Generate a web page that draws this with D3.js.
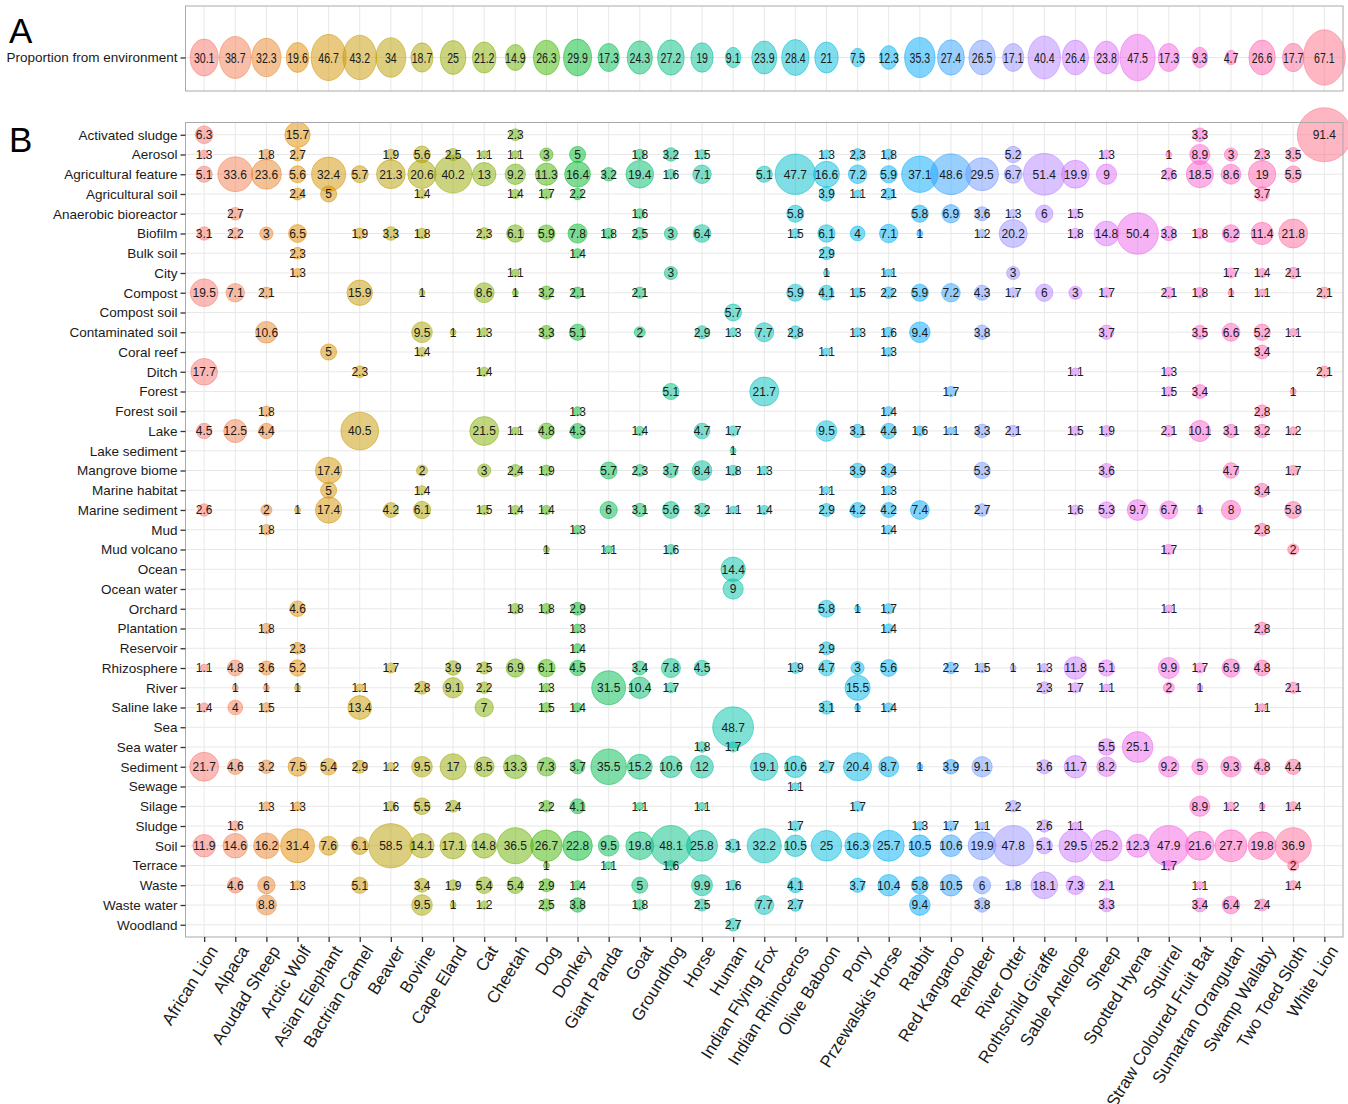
<!DOCTYPE html>
<html>
<head>
<meta charset="utf-8">
<script src="https://cdn.jsdelivr.net/npm/d3@7"></script>
<style>
  body { margin: 0; background: #fff; }
  text { font-family: "Liberation Sans", Arial, Helvetica, sans-serif; }
</style>
</head>
<body>
<svg id="chart" width="1348" height="1104"></svg>
<script>
// ---- Data -------------------------------------------------------------
const animals = [
  "African Lion", "Alpaca", "Aoudad Sheep", "Arctic Wolf", "Asian Elephant",
  "Bactrian Camel", "Beaver", "Bovine", "Cape Eland", "Cat", "Cheetah", "Dog",
  "Donkey", "Giant Panda", "Goat", "Groundhog", "Horse", "Human",
  "Indian Flying Fox", "Indian Rhinoceros", "Olive Baboon", "Pony",
  "Przewalskis Horse", "Rabbit", "Red Kangaroo", "Reindeer", "River Otter",
  "Rothschild Giraffe", "Sable Antelope", "Sheep", "Spotted Hyena", "Squirrel",
  "Straw Coloured Fruit Bat", "Sumatran Orangutan", "Swamp Wallaby",
  "Two Toed Sloth", "White Lion"
];

// Panel A: proportion of sequences assigned to an environment, per animal
const proportionLabel = "Proportion from environment";
const proportionFromEnvironment = [
  30.1, 38.7, 32.3, 19.6, 46.7, 43.2, 34, 18.7, 25, 21.2, 14.9, 26.3, 29.9,
  17.3, 24.3, 27.2, 19, 9.1, 23.9, 28.4, 21, 7.5, 12.3, 35.3, 27.4, 26.5, 17.1,
  40.4, 26.4, 23.8, 47.5, 17.3, 9.3, 4.7, 26.6, 17.7, 67.1
];

// Panel B: environment rows (top to bottom)
const environments = [
  "Activated sludge", "Aerosol", "Agricultural feature", "Agricultural soil",
  "Anaerobic bioreactor", "Biofilm", "Bulk soil", "City", "Compost",
  "Compost soil", "Contaminated soil", "Coral reef", "Ditch", "Forest",
  "Forest soil", "Lake", "Lake sediment", "Mangrove biome", "Marine habitat",
  "Marine sediment", "Mud", "Mud volcano", "Ocean", "Ocean water", "Orchard",
  "Plantation", "Reservoir", "Rhizosphere", "River", "Saline lake", "Sea",
  "Sea water", "Sediment", "Sewage", "Silage", "Sludge", "Soil", "Terrace",
  "Waste", "Waste water", "Woodland"
];

// Percentages per environment: [animal, value]
const activatedSludge = [["African Lion",6.3],["Arctic Wolf",15.7],["Cheetah",2.3],["Straw Coloured Fruit Bat",3.3],["White Lion",91.4]];
const aerosol = [["African Lion",1.3],["Aoudad Sheep",1.8],["Arctic Wolf",2.7],["Beaver",1.9],["Bovine",5.6],["Cape Eland",2.5],["Cat",1.1],["Cheetah",1.1],["Dog",3],["Donkey",5],["Goat",1.8],["Groundhog",3.2],["Horse",1.5],["Olive Baboon",1.3],["Pony",2.3],["Przewalskis Horse",1.8],["River Otter",5.2],["Sheep",1.3],["Squirrel",1],["Straw Coloured Fruit Bat",8.9],["Sumatran Orangutan",3],["Swamp Wallaby",2.3],["Two Toed Sloth",3.5]];
const agriculturalFeature = [["African Lion",5.1],["Alpaca",33.6],["Aoudad Sheep",23.6],["Arctic Wolf",5.6],["Asian Elephant",32.4],["Bactrian Camel",5.7],["Beaver",21.3],["Bovine",20.6],["Cape Eland",40.2],["Cat",13],["Cheetah",9.2],["Dog",11.3],["Donkey",16.4],["Giant Panda",3.2],["Goat",19.4],["Groundhog",1.6],["Horse",7.1],["Indian Flying Fox",5.1],["Indian Rhinoceros",47.7],["Olive Baboon",16.6],["Pony",7.2],["Przewalskis Horse",5.9],["Rabbit",37.1],["Red Kangaroo",48.6],["Reindeer",29.5],["River Otter",6.7],["Rothschild Giraffe",51.4],["Sable Antelope",19.9],["Sheep",9],["Squirrel",2.6],["Straw Coloured Fruit Bat",18.5],["Sumatran Orangutan",8.6],["Swamp Wallaby",19],["Two Toed Sloth",5.5]];
const agriculturalSoil = [["Arctic Wolf",2.4],["Asian Elephant",5],["Bovine",1.4],["Cheetah",1.4],["Dog",1.7],["Donkey",2.2],["Olive Baboon",3.9],["Pony",1.1],["Przewalskis Horse",2.1],["Swamp Wallaby",3.7]];
const anaerobicBioreactor = [["Alpaca",2.7],["Goat",1.6],["Indian Rhinoceros",5.8],["Rabbit",5.8],["Red Kangaroo",6.9],["Reindeer",3.6],["River Otter",1.3],["Rothschild Giraffe",6],["Sable Antelope",1.5]];
const biofilm = [["African Lion",3.1],["Alpaca",2.2],["Aoudad Sheep",3],["Arctic Wolf",6.5],["Bactrian Camel",1.9],["Beaver",3.3],["Bovine",1.8],["Cat",2.3],["Cheetah",6.1],["Dog",5.9],["Donkey",7.8],["Giant Panda",1.8],["Goat",2.5],["Groundhog",3],["Horse",6.4],["Indian Rhinoceros",1.5],["Olive Baboon",6.1],["Pony",4],["Przewalskis Horse",7.1],["Rabbit",1],["Reindeer",1.2],["River Otter",20.2],["Sable Antelope",1.8],["Sheep",14.8],["Spotted Hyena",50.4],["Squirrel",3.8],["Straw Coloured Fruit Bat",1.8],["Sumatran Orangutan",6.2],["Swamp Wallaby",11.4],["Two Toed Sloth",21.8]];
const bulkSoil = [["Arctic Wolf",2.3],["Donkey",1.4],["Olive Baboon",2.9]];
const city = [["Arctic Wolf",1.3],["Cheetah",1.1],["Groundhog",3],["Olive Baboon",1],["Przewalskis Horse",1.1],["River Otter",3],["Sumatran Orangutan",1.7],["Swamp Wallaby",1.4],["Two Toed Sloth",2.1]];
const compost = [["African Lion",19.5],["Alpaca",7.1],["Aoudad Sheep",2.1],["Bactrian Camel",15.9],["Bovine",1],["Cat",8.6],["Cheetah",1],["Dog",3.2],["Donkey",2.1],["Goat",2.1],["Indian Rhinoceros",5.9],["Olive Baboon",4.1],["Pony",1.5],["Przewalskis Horse",2.2],["Rabbit",5.9],["Red Kangaroo",7.2],["Reindeer",4.3],["River Otter",1.7],["Rothschild Giraffe",6],["Sable Antelope",3],["Sheep",1.7],["Squirrel",2.1],["Straw Coloured Fruit Bat",1.8],["Sumatran Orangutan",1],["Swamp Wallaby",1.1],["White Lion",2.1]];
const compostSoil = [["Human",5.7]];
const contaminatedSoil = [["Aoudad Sheep",10.6],["Bovine",9.5],["Cape Eland",1],["Cat",1.3],["Dog",3.3],["Donkey",5.1],["Goat",2],["Horse",2.9],["Human",1.3],["Indian Flying Fox",7.7],["Indian Rhinoceros",2.8],["Pony",1.3],["Przewalskis Horse",1.6],["Rabbit",9.4],["Reindeer",3.8],["Sheep",3.7],["Straw Coloured Fruit Bat",3.5],["Sumatran Orangutan",6.6],["Swamp Wallaby",5.2],["Two Toed Sloth",1.1]];
const coralReef = [["Asian Elephant",5],["Bovine",1.4],["Olive Baboon",1.1],["Przewalskis Horse",1.3],["Swamp Wallaby",3.4]];
const ditch = [["African Lion",17.7],["Bactrian Camel",2.3],["Cat",1.4],["Sable Antelope",1.1],["Squirrel",1.3],["White Lion",2.1]];
const forest = [["Groundhog",5.1],["Indian Flying Fox",21.7],["Red Kangaroo",1.7],["Squirrel",1.5],["Straw Coloured Fruit Bat",3.4],["Two Toed Sloth",1]];
const forestSoil = [["Aoudad Sheep",1.8],["Donkey",1.3],["Przewalskis Horse",1.4],["Swamp Wallaby",2.8]];
const lake = [["African Lion",4.5],["Alpaca",12.5],["Aoudad Sheep",4.4],["Bactrian Camel",40.5],["Cat",21.5],["Cheetah",1.1],["Dog",4.8],["Donkey",4.3],["Goat",1.4],["Horse",4.7],["Human",1.7],["Olive Baboon",9.5],["Pony",3.1],["Przewalskis Horse",4.4],["Rabbit",1.6],["Red Kangaroo",1.1],["Reindeer",3.3],["River Otter",2.1],["Sable Antelope",1.5],["Sheep",1.9],["Squirrel",2.1],["Straw Coloured Fruit Bat",10.1],["Sumatran Orangutan",3.1],["Swamp Wallaby",3.2],["Two Toed Sloth",1.2]];
const lakeSediment = [["Human",1]];
const mangroveBiome = [["Asian Elephant",17.4],["Bovine",2],["Cat",3],["Cheetah",2.4],["Dog",1.9],["Giant Panda",5.7],["Goat",2.3],["Groundhog",3.7],["Horse",8.4],["Human",1.8],["Indian Flying Fox",1.3],["Pony",3.9],["Przewalskis Horse",3.4],["Reindeer",5.3],["Sheep",3.6],["Sumatran Orangutan",4.7],["Two Toed Sloth",1.7]];
const marineHabitat = [["Asian Elephant",5],["Bovine",1.4],["Olive Baboon",1.1],["Przewalskis Horse",1.3],["Swamp Wallaby",3.4]];
const marineSediment = [["African Lion",2.6],["Aoudad Sheep",2],["Arctic Wolf",1],["Asian Elephant",17.4],["Beaver",4.2],["Bovine",6.1],["Cat",1.5],["Cheetah",1.4],["Dog",1.4],["Giant Panda",6],["Goat",3.1],["Groundhog",5.6],["Horse",3.2],["Human",1.1],["Indian Flying Fox",1.4],["Olive Baboon",2.9],["Pony",4.2],["Przewalskis Horse",4.2],["Rabbit",7.4],["Reindeer",2.7],["Sable Antelope",1.6],["Sheep",5.3],["Spotted Hyena",9.7],["Squirrel",6.7],["Straw Coloured Fruit Bat",1],["Sumatran Orangutan",8],["Two Toed Sloth",5.8]];
const mud = [["Aoudad Sheep",1.8],["Donkey",1.3],["Przewalskis Horse",1.4],["Swamp Wallaby",2.8]];
const mudVolcano = [["Dog",1],["Giant Panda",1.1],["Groundhog",1.6],["Squirrel",1.7],["Two Toed Sloth",2]];
const ocean = [["Human",14.4]];
const oceanWater = [["Human",9]];
const orchard = [["Arctic Wolf",4.6],["Cheetah",1.8],["Dog",1.8],["Donkey",2.9],["Olive Baboon",5.8],["Pony",1],["Przewalskis Horse",1.7],["Squirrel",1.1]];
const plantation = [["Aoudad Sheep",1.8],["Donkey",1.3],["Przewalskis Horse",1.4],["Swamp Wallaby",2.8]];
const reservoir = [["Arctic Wolf",2.3],["Donkey",1.4],["Olive Baboon",2.9]];
const rhizosphere = [["African Lion",1.1],["Alpaca",4.8],["Aoudad Sheep",3.6],["Arctic Wolf",5.2],["Beaver",1.7],["Cape Eland",3.9],["Cat",2.5],["Cheetah",6.9],["Dog",6.1],["Donkey",4.5],["Goat",3.4],["Groundhog",7.8],["Horse",4.5],["Indian Rhinoceros",1.9],["Olive Baboon",4.7],["Pony",3],["Przewalskis Horse",5.6],["Red Kangaroo",2.2],["Reindeer",1.5],["River Otter",1],["Rothschild Giraffe",1.3],["Sable Antelope",11.8],["Sheep",5.1],["Squirrel",9.9],["Straw Coloured Fruit Bat",1.7],["Sumatran Orangutan",6.9],["Swamp Wallaby",4.8]];
const river = [["Alpaca",1],["Aoudad Sheep",1],["Arctic Wolf",1],["Bactrian Camel",1.1],["Bovine",2.8],["Cape Eland",9.1],["Cat",2.2],["Dog",1.3],["Giant Panda",31.5],["Goat",10.4],["Groundhog",1.7],["Pony",15.5],["Rothschild Giraffe",2.3],["Sable Antelope",1.7],["Sheep",1.1],["Squirrel",2],["Straw Coloured Fruit Bat",1],["Two Toed Sloth",2.1]];
const salineLake = [["African Lion",1.4],["Alpaca",4],["Aoudad Sheep",1.5],["Bactrian Camel",13.4],["Cat",7],["Dog",1.5],["Donkey",1.4],["Olive Baboon",3.1],["Pony",1],["Przewalskis Horse",1.4],["Swamp Wallaby",1.1]];
const sea = [["Human",48.7]];
const seaWater = [["Horse",1.8],["Human",1.7],["Sheep",5.5],["Spotted Hyena",25.1]];
const sediment = [["African Lion",21.7],["Alpaca",4.6],["Aoudad Sheep",3.2],["Arctic Wolf",7.5],["Asian Elephant",5.4],["Bactrian Camel",2.9],["Beaver",1.2],["Bovine",9.5],["Cape Eland",17],["Cat",8.5],["Cheetah",13.3],["Dog",7.3],["Donkey",3.7],["Giant Panda",35.5],["Goat",15.2],["Groundhog",10.6],["Horse",12],["Indian Flying Fox",19.1],["Indian Rhinoceros",10.6],["Olive Baboon",2.7],["Pony",20.4],["Przewalskis Horse",8.7],["Rabbit",1],["Red Kangaroo",3.9],["Reindeer",9.1],["Rothschild Giraffe",3.6],["Sable Antelope",11.7],["Sheep",8.2],["Squirrel",9.2],["Straw Coloured Fruit Bat",5],["Sumatran Orangutan",9.3],["Swamp Wallaby",4.8],["Two Toed Sloth",4.4]];
const sewage = [["Indian Rhinoceros",1.1]];
const silage = [["Aoudad Sheep",1.3],["Arctic Wolf",1.3],["Beaver",1.6],["Bovine",5.5],["Cape Eland",2.4],["Dog",2.2],["Donkey",4.1],["Goat",1.1],["Horse",1.1],["Pony",1.7],["River Otter",2.2],["Straw Coloured Fruit Bat",8.9],["Sumatran Orangutan",1.2],["Swamp Wallaby",1],["Two Toed Sloth",1.4]];
const sludge = [["Alpaca",1.6],["Indian Rhinoceros",1.7],["Rabbit",1.3],["Red Kangaroo",1.7],["Reindeer",1.1],["Rothschild Giraffe",2.6],["Sable Antelope",1.1]];
const soil = [["African Lion",11.9],["Alpaca",14.6],["Aoudad Sheep",16.2],["Arctic Wolf",31.4],["Asian Elephant",7.6],["Bactrian Camel",6.1],["Beaver",58.5],["Bovine",14.1],["Cape Eland",17.1],["Cat",14.8],["Cheetah",36.5],["Dog",26.7],["Donkey",22.8],["Giant Panda",9.5],["Goat",19.8],["Groundhog",48.1],["Horse",25.8],["Human",3.1],["Indian Flying Fox",32.2],["Indian Rhinoceros",10.5],["Olive Baboon",25],["Pony",16.3],["Przewalskis Horse",25.7],["Rabbit",10.5],["Red Kangaroo",10.6],["Reindeer",19.9],["River Otter",47.8],["Rothschild Giraffe",5.1],["Sable Antelope",29.5],["Sheep",25.2],["Spotted Hyena",12.3],["Squirrel",47.9],["Straw Coloured Fruit Bat",21.6],["Sumatran Orangutan",27.7],["Swamp Wallaby",19.8],["Two Toed Sloth",36.9]];
const terrace = [["Dog",1],["Giant Panda",1.1],["Groundhog",1.6],["Squirrel",1.7],["Two Toed Sloth",2]];
const waste = [["Alpaca",4.6],["Aoudad Sheep",6],["Arctic Wolf",1.3],["Bactrian Camel",5.1],["Bovine",3.4],["Cape Eland",1.9],["Cat",5.4],["Cheetah",5.4],["Dog",2.9],["Donkey",1.4],["Goat",5],["Horse",9.9],["Human",1.6],["Indian Rhinoceros",4.1],["Pony",3.7],["Przewalskis Horse",10.4],["Rabbit",5.8],["Red Kangaroo",10.5],["Reindeer",6],["River Otter",1.8],["Rothschild Giraffe",18.1],["Sable Antelope",7.3],["Sheep",2.1],["Straw Coloured Fruit Bat",1.1],["Two Toed Sloth",1.4]];
const wasteWater = [["Aoudad Sheep",8.8],["Bovine",9.5],["Cape Eland",1],["Cat",1.2],["Dog",2.5],["Donkey",3.8],["Goat",1.8],["Horse",2.5],["Indian Flying Fox",7.7],["Indian Rhinoceros",2.7],["Rabbit",9.4],["Reindeer",3.8],["Sheep",3.3],["Straw Coloured Fruit Bat",3.4],["Sumatran Orangutan",6.4],["Swamp Wallaby",2.4]];
const woodland = [["Human",2.7]];

// Same order as `environments`
const environmentRows = [
  activatedSludge, aerosol, agriculturalFeature, agriculturalSoil,
  anaerobicBioreactor, biofilm, bulkSoil, city, compost, compostSoil,
  contaminatedSoil, coralReef, ditch, forest, forestSoil, lake, lakeSediment,
  mangroveBiome, marineHabitat, marineSediment, mud, mudVolcano, ocean,
  oceanWater, orchard, plantation, reservoir, rhizosphere, river, salineLake,
  sea, seaWater, sediment, sewage, silage, sludge, soil, terrace, waste,
  wasteWater, woodland
];

// ---- Colours: evenly spaced hues in polar CIE-Luv (c = 100, l = 65) ----
function hclLuv(h, c, l) {
  const hr = h * Math.PI / 180;
  const u = c * Math.cos(hr), v = c * Math.sin(hr);
  const Xn = 0.95047, Yn = 1.0, Zn = 1.08883;
  const Y = l > 8 ? Yn * Math.pow((l + 16) / 116, 3) : Yn * l / 903.3;
  const d = Xn + 15 * Yn + 3 * Zn;
  const un = 4 * Xn / d, vn = 9 * Yn / d;
  const up = u / (13 * l) + un, vp = v / (13 * l) + vn;
  const X = Y * 9 * up / (4 * vp);
  const Z = Y * (12 - 3 * up - 20 * vp) / (4 * vp);
  const lin = [
     3.2404542 * X - 1.5371385 * Y - 0.4985314 * Z,
    -0.9692660 * X + 1.8760108 * Y + 0.0415560 * Z,
     0.0556434 * X - 0.2040259 * Y + 1.0572252 * Z
  ];
  const g = lin.map(t => {
    const s = t <= 0.0031308 ? 12.92 * t : 1.055 * Math.pow(t, 1 / 2.4) - 0.055;
    return Math.round(255 * Math.max(0, Math.min(1, s)));
  });
  return d3.rgb(g[0], g[1], g[2]).formatHex();
}
const hues = d3.range(animals.length).map(i => 15 + i * 360 / animals.length);
const colour = d3.scaleOrdinal().domain(animals).range(hues.map(h => hclLuv(h, 100, 65)));

// ---- Layout -----------------------------------------------------------
const svg = d3.select("#chart");
const left = 185.5, right = 1343;
const panelA = { top: 6, bottom: 91 };
const panelB = { top: 122.5, bottom: 937 };
const gridColour = "#e8e8e8", borderColour = "#a9a9a9", tickColour = "#333";
const font = '"Liberation Sans", Arial, sans-serif';

const x = d3.scalePoint().domain(animals).range([left, right]).padding(0.6);
const yB = d3.scalePoint().domain(environments).range([panelB.top, panelB.bottom]).padding(0.62);
const yA = d3.scalePoint().domain([proportionLabel]).range([panelA.top + 17, panelA.bottom + 1]).padding(0.5);

// Bubble radius: square-root area scaling of the rescaled value
const allB = environmentRows.flat().map(d => d[1]);
const norm = d3.scaleLinear().domain(d3.extent(allB)).range([0, 1]);
const rB = d3.scaleLinear().domain([0, 1]).range([3, 27]);
const radiusB = v => rB(Math.sqrt(norm(v)));
const radiusA = d3.scaleSqrt().domain([0, d3.max(proportionFromEnvironment)]).range([0, 21]);
const stretchA = 1.32;

// ---- Panel letters ----------------------------------------------------
svg.append("text").attr("x", 9).attr("y", 43).attr("font-size", 35).attr("fill", "#000").text("A");
svg.append("text").attr("x", 9).attr("y", 152).attr("font-size", 35).attr("fill", "#000").text("B");

// ---- Panel A ----------------------------------------------------------
const gA = svg.append("g");
gA.selectAll("line.vx").data(animals).join("line")
  .attr("x1", d => x(d)).attr("x2", d => x(d))
  .attr("y1", panelA.top).attr("y2", panelA.bottom)
  .attr("stroke", gridColour).attr("stroke-width", 1);
gA.append("line").attr("x1", left).attr("x2", right)
  .attr("y1", yA(proportionLabel)).attr("y2", yA(proportionLabel))
  .attr("stroke", gridColour).attr("stroke-width", 1);

const dataA = animals.map((a, i) => ({ animal: a, value: proportionFromEnvironment[i] }));
gA.selectAll("ellipse").data(dataA).join("ellipse")
  .attr("cx", d => x(d.animal)).attr("cy", yA(proportionLabel))
  .attr("rx", d => radiusA(d.value)).attr("ry", d => radiusA(d.value) * stretchA)
  .attr("fill", d => colour(d.animal)).attr("fill-opacity", 0.5)
  .attr("stroke", d => colour(d.animal)).attr("stroke-opacity", 0.5).attr("stroke-width", 1);
gA.selectAll("g.lab").data(dataA).join("g")
  .attr("transform", d => `translate(${x(d.animal)},${yA(proportionLabel)}) scale(0.92,1.3)`)
  .append("text").attr("text-anchor", "middle").attr("dy", "0.36em")
  .attr("font-size", 11.5).attr("fill", "#1a1a1a").text(d => d.value);
gA.append("rect").attr("x", left).attr("y", panelA.top).attr("width", right - left)
  .attr("height", panelA.bottom - panelA.top).attr("fill", "none")
  .attr("stroke", borderColour).attr("stroke-width", 1);

const axA = gA.append("g").attr("transform", `translate(${left},0)`)
  .call(d3.axisLeft(yA).tickSize(5).tickPadding(3));
axA.select(".domain").remove();
axA.selectAll("line").attr("stroke", tickColour).attr("stroke-width", 1.3);
axA.selectAll("text").attr("font-size", 13.5).attr("fill", "#1a1a1a").attr("font-family", font);

// ---- Panel B ----------------------------------------------------------
const gB = svg.append("g");
gB.selectAll("line.vx").data(animals).join("line")
  .attr("x1", d => x(d)).attr("x2", d => x(d))
  .attr("y1", panelB.top).attr("y2", panelB.bottom)
  .attr("stroke", gridColour).attr("stroke-width", 1);
gB.selectAll("line.hy").data(environments).join("line")
  .attr("x1", left).attr("x2", right)
  .attr("y1", d => yB(d)).attr("y2", d => yB(d))
  .attr("stroke", gridColour).attr("stroke-width", 1);

const points = environments.flatMap((env, i) =>
  environmentRows[i].map(([animal, value]) => ({ env, animal, value })));

gB.selectAll("circle").data(points).join("circle")
  .attr("cx", d => x(d.animal)).attr("cy", d => yB(d.env))
  .attr("r", d => radiusB(d.value))
  .attr("fill", d => colour(d.animal)).attr("fill-opacity", 0.5)
  .attr("stroke", d => colour(d.animal)).attr("stroke-opacity", 0.5).attr("stroke-width", 1);
gB.selectAll("text.val").data(points).join("text")
  .attr("x", d => x(d.animal)).attr("y", d => yB(d.env))
  .attr("text-anchor", "middle").attr("dy", "0.36em")
  .attr("font-size", 12).attr("fill", "#1a1a1a").text(d => d.value);

gB.append("rect").attr("x", left).attr("y", panelB.top).attr("width", right - left)
  .attr("height", panelB.bottom - panelB.top).attr("fill", "none")
  .attr("stroke", borderColour).attr("stroke-width", 1);

const axY = gB.append("g").attr("transform", `translate(${left},0)`)
  .call(d3.axisLeft(yB).tickSize(5).tickPadding(3));
axY.select(".domain").remove();
axY.selectAll("line").attr("stroke", tickColour).attr("stroke-width", 1.3);
axY.selectAll("text").attr("font-size", 13.5).attr("fill", "#1a1a1a").attr("font-family", font);

const axX = gB.append("g").attr("transform", `translate(0,${panelB.bottom})`)
  .call(d3.axisBottom(x).tickSize(5).tickPadding(3));
axX.select(".domain").remove();
axX.selectAll("line").attr("stroke", tickColour).attr("stroke-width", 1.3);
axX.selectAll("text")
  .attr("font-size", 17).attr("fill", "#1a1a1a").attr("font-family", font)
  .attr("text-anchor", "end")
  .attr("dy", "0.35em")
  .attr("transform", "translate(2,6) rotate(-58)");
</script>
</body>
</html>
